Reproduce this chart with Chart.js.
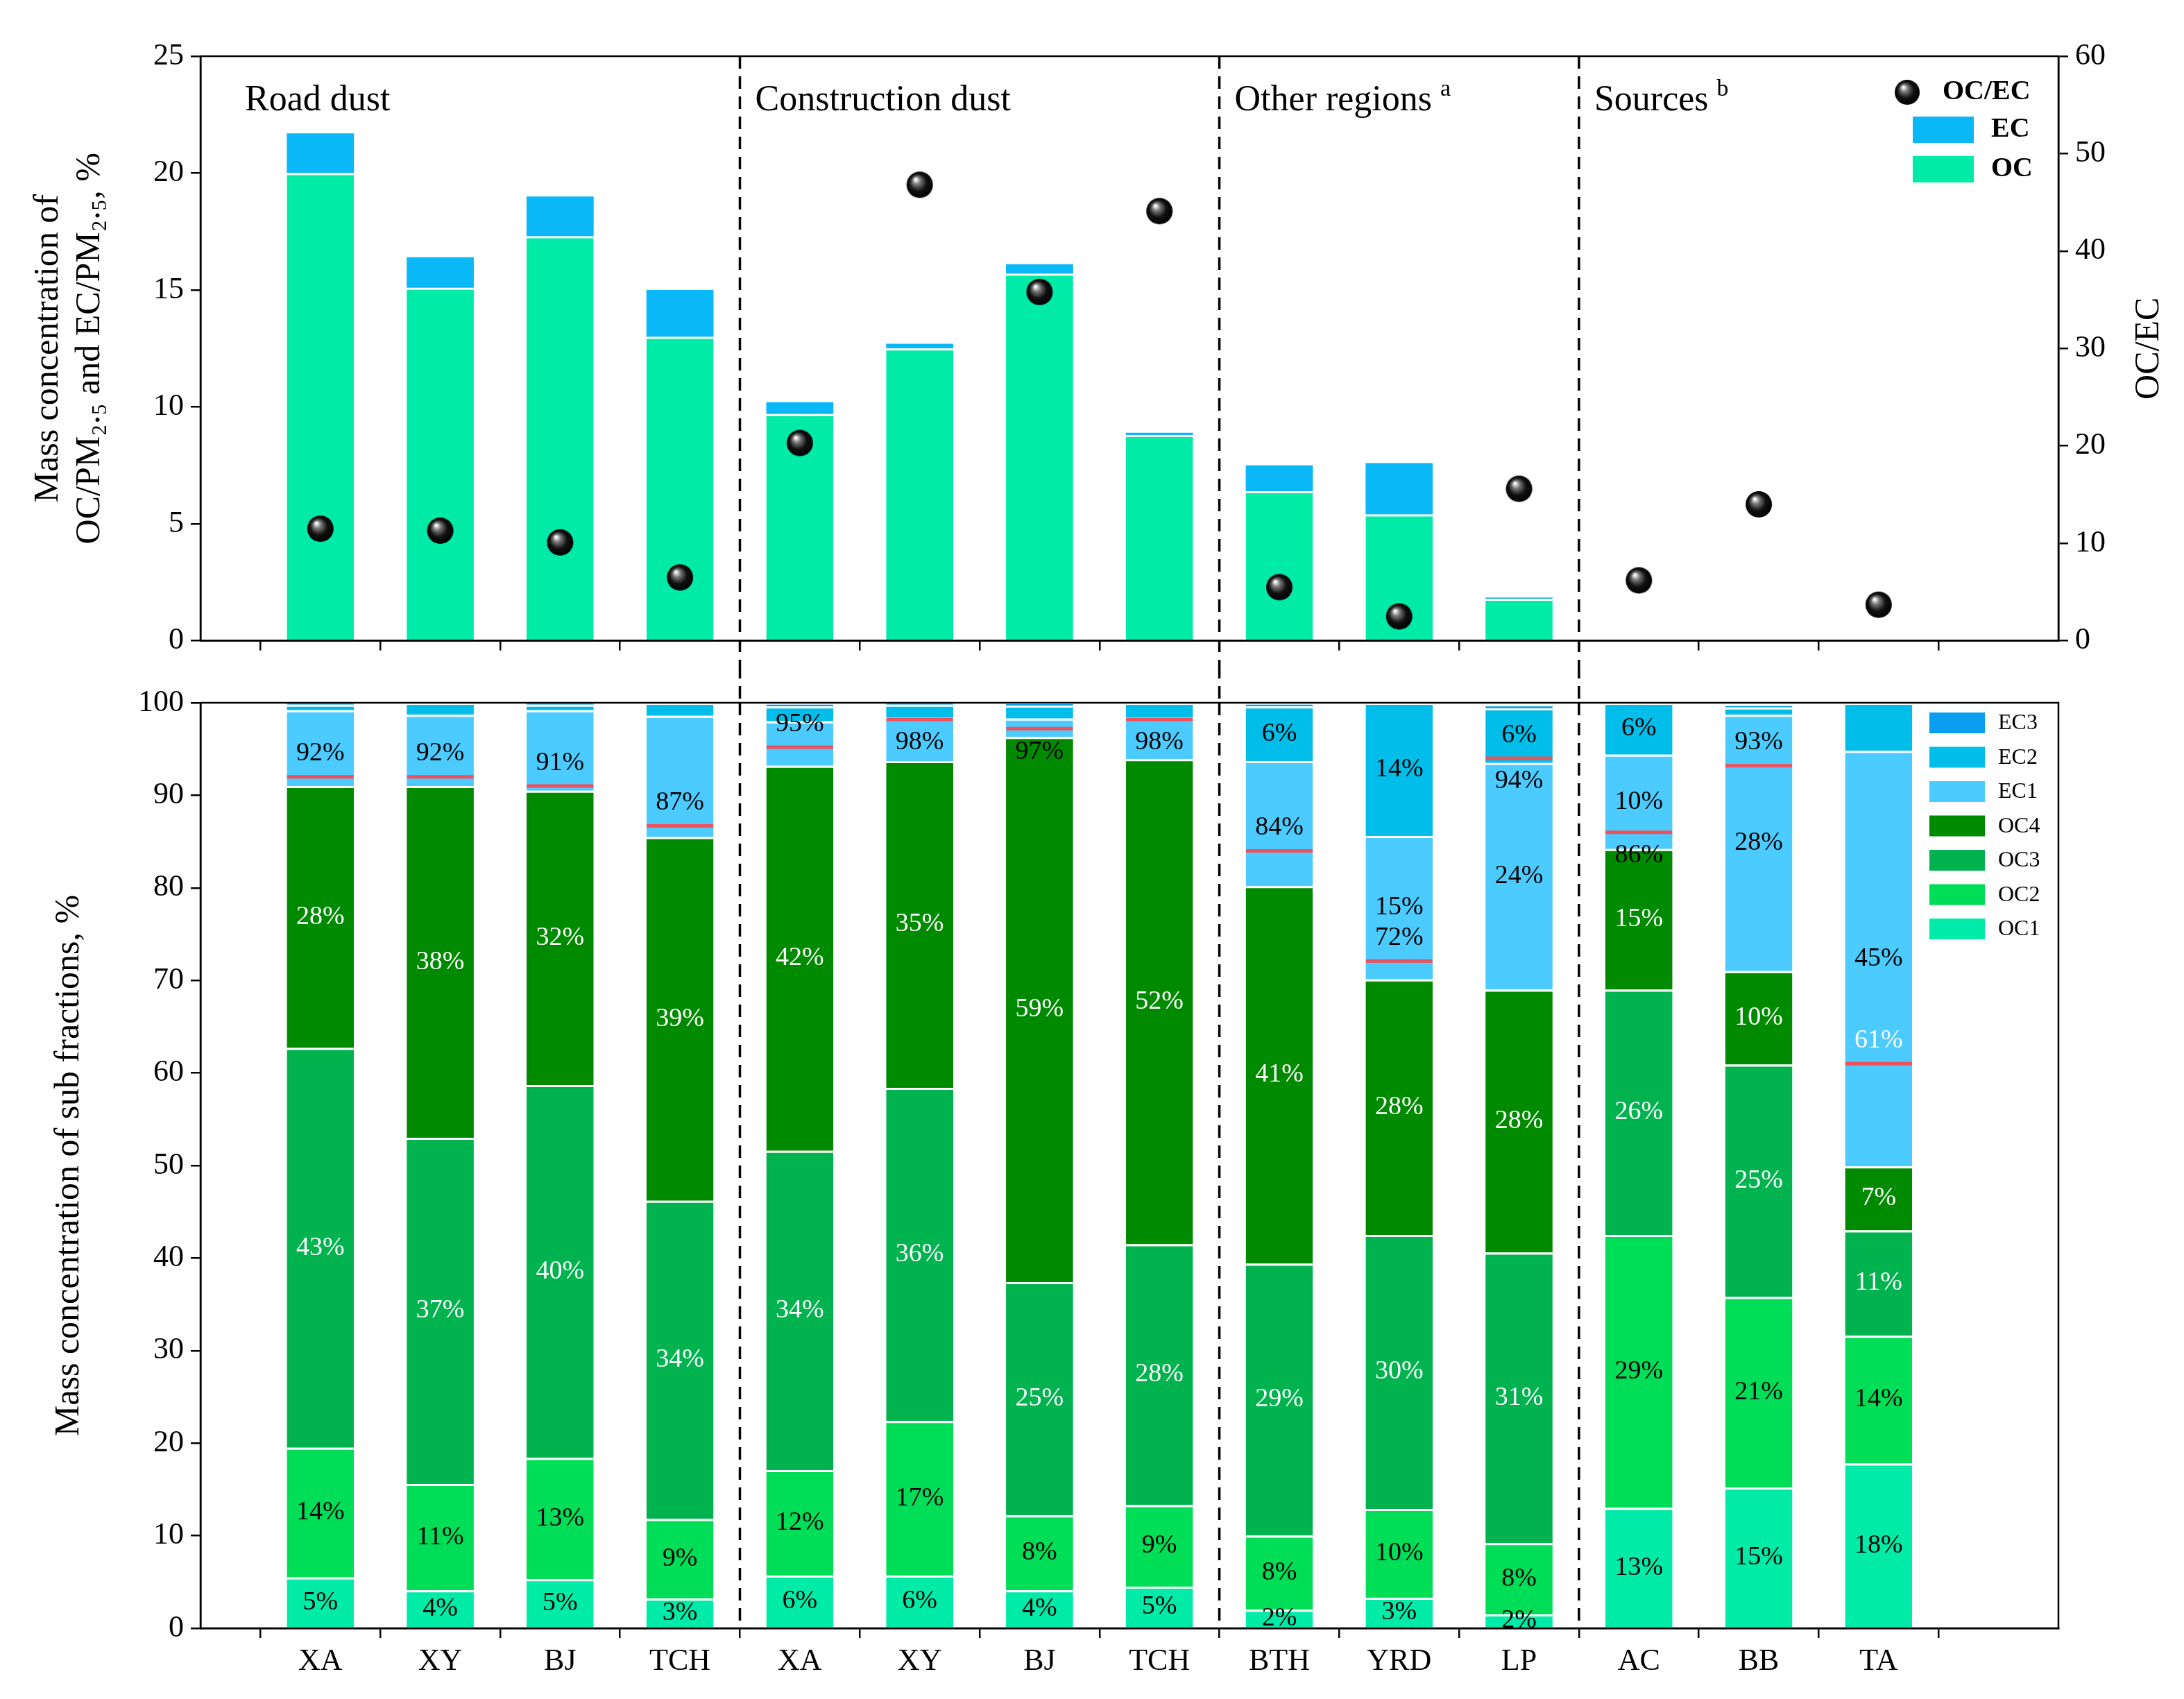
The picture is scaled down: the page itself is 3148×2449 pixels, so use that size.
<!DOCTYPE html>
<html><head><meta charset="utf-8">
<script src="https://cdn.jsdelivr.net/npm/chart.js@4.4.1/dist/chart.umd.min.js"></script>
<style>body{margin:0;background:#fff;width:3148px;height:2449px;position:relative;overflow:hidden}
canvas{position:absolute;left:0}</style></head><body>
<canvas id="c1" width="3148" height="960" style="top:0;width:3148px;height:960px"></canvas>
<canvas id="c2" width="3148" height="1489" style="top:960px;width:3148px;height:1489px"></canvas>
<script>
const categories=['XA','XY','BJ','TCH','XA','XY','BJ','TCH','BTH','YRD','LP','AC','BB','TA'];
const sections=['Road dust','Construction dust','Other regions','Sources'];
const sectionSup=['','','a','b'];
const sectionStart=[0,4,8,11];
const ocPM=[20.0,15.1,17.3,13.0,9.7,12.5,15.7,8.8,6.4,5.4,1.8,null,null,null];
const ecPM=[1.7,1.3,1.7,2.0,0.5,0.2,0.4,0.1,1.1,2.2,0.05,null,null,null];
const ocec=[11.5,11.3,10.1,6.5,20.3,46.8,35.8,44.1,5.5,2.5,15.6,6.2,14.0,3.7];
const OC1=[5.5,4.1,5.3,3.2,5.7,5.7,4.1,4.5,2.0,3.3,1.5,13.0,15.2,17.8];
const OC2=[14.0,11.5,13.1,8.6,11.4,16.7,8.1,8.8,8.0,9.6,7.7,29.5,20.6,13.8];
const OC3=[43.2,37.4,40.3,34.4,34.5,36.0,25.2,28.2,29.4,29.6,31.4,26.5,25.1,11.4];
const OC4=[28.3,38.0,31.8,39.3,41.6,35.3,58.9,52.4,40.8,27.6,28.4,15.2,10.1,6.9];
const EC1=[8.2,7.7,8.7,13.1,4.8,4.7,2.0,4.5,13.5,15.5,24.5,10.2,27.7,44.9];
const EC2=[0.6,1.3,0.6,1.4,1.6,1.4,1.4,1.6,5.9,14.4,5.9,5.6,0.8,5.2];
const EC3=[0.2,0,0.2,0,0.4,0.2,0.3,0,0.4,0,0.4,0,0.3,0];
const ocShare=[92,92,91,86.7,95.2,98.2,97.2,98.2,84,72.1,94,86,93.2,61];
const lblOC1=['5%','4%','5%','3%','6%','6%','4%','5%','2%','3%','2%','13%','15%','18%'];
const lblOC2=['14%','11%','13%','9%','12%','17%','8%','9%','8%','10%','8%','29%','21%','14%'];
const lblOC3=['43%','37%','40%','34%','34%','36%','25%','28%','29%','30%','31%','26%','25%','11%'];
const lblOC4=['28%','38%','32%','39%','42%','35%','59%','52%','41%','28%','28%','15%','10%','7%'];
const lblEC1=[null,null,null,null,null,null,null,null,null,'15%','24%','10%','28%','45%'];
const lblEC2=[null,null,null,null,null,null,null,null,'6%','14%','6%','6%',null,null];
const lblShare=['92%','92%','91%','87%','95%','98%','97%','98%','84%','72%','94%','86%','93%','61%'];
const shareBelow=[0,0,0,0,0,1,1,1,0,0,1,1,0,0];
const yTopTicks=[0,5,10,15,20,25];

const FONT="'Liberation Serif'";
Chart.defaults.font.family="'Liberation Serif', serif";
Chart.defaults.color='#000';
const pts=a=>a.map((v,i)=>({x:i,y:v}));

const sph=document.createElement('canvas');sph.width=40;sph.height=40;
{const g=sph.getContext('2d');const gr=g.createRadialGradient(14,12,1,20,20,20);
gr.addColorStop(0,'#fff');gr.addColorStop(0.25,'#777');gr.addColorStop(0.6,'#111');gr.addColorStop(1,'#000');
g.fillStyle=gr;g.beginPath();g.arc(20,20,19,0,Math.PI*2);g.fill();}

const C={OC1:'#00EBA8',OC2:'#00DE57',OC3:'#00B34F',OC4:'#008A00',EC1:'#4BCBFF',EC2:'#00BDEA',EC3:'#0A9EF0',OC:'#00EBA8',EC:'#0BB8F7'};

function boundaryX(x,i){return x.getPixelForValue(i-0.5);}
const frame={id:'frame',afterDatasetsDraw(ch,a,o){const c=ch.ctx,ca=ch.chartArea,x=ch.scales.x;
 c.save();c.strokeStyle='#000';c.lineWidth=2.5;c.strokeRect(ca.left,ca.top,ca.right-ca.left,ca.bottom-ca.top);
 c.setLineDash([18,11]);c.lineWidth=3.5;
 [4,8,11].forEach(i=>{const px=boundaryX(x,i);c.beginPath();c.moveTo(px,ca.top);c.lineTo(px,o.extBottom?ch.height:ca.bottom);
  if(o.extTop){c.moveTo(px,0);c.lineTo(px,ca.top);}c.stroke();});
 c.restore();}};

const xScale=(show,h)=>({type:'linear',min:-1,max:14.5,offset:false,
 afterBuildTicks:s=>{s.ticks=categories.map((c,i)=>({value:i}))},
 ticks:{display:show,font:{size:44},padding:8,callback:v=>categories[v]},
 grid:{display:true,drawOnChartArea:false,tickLength:14,color:'#000',lineWidth:2.5},border:{color:'#000',width:2.5},afterFit:s=>{s.height=h}});

const topTitles={id:'tt',afterDatasetsDraw(ch){const c=ch.ctx,x=ch.scales.x,ca=ch.chartArea;c.save();
 c.fillStyle='#000';c.textBaseline='middle';
 sections.forEach((s,k)=>{const i=sectionStart[k];const px=(i===0?ca.left+64:boundaryX(x,i)+22);
  c.font='52px '+FONT;c.textAlign='left';c.fillText(s,px,ca.top+64);
  if(sectionSup[k]){const w=c.measureText(s).width;c.font='34px '+FONT;c.fillText(sectionSup[k],px+w+12,ca.top+48);}});
 c.drawImage(sph,2730,114,38,38);
 c.font='bold 40px '+FONT;c.fillText('OC/EC',2800,133);
 c.fillStyle=C.EC;c.fillRect(2757,168,88,38);c.fillStyle=C.OC;c.fillRect(2757,225,88,38);
 c.fillStyle='#000';c.fillText('EC',2870,187);c.fillText('OC',2870,244);
 c.translate(3098,(ca.top+ca.bottom)/2);c.rotate(-Math.PI/2);c.textAlign='center';c.font='50px '+FONT;c.fillText('OC/EC',0,0);
 c.restore();}};

new Chart(document.getElementById('c1'),{type:'bar',
 data:{datasets:[
  {label:'OC',data:pts(ocPM),backgroundColor:C.OC,borderColor:'#fff',borderWidth:{top:3},stack:'s',yAxisID:'y',order:2},
  {label:'EC',data:pts(ecPM),backgroundColor:C.EC,stack:'s',yAxisID:'y',order:2},
  {label:'OC/EC',type:'line',data:pts(ocec),showLine:false,yAxisID:'y1',pointStyle:sph,pointRadius:19,order:1}]},
 options:{responsive:false,animation:false,devicePixelRatio:1,layout:{padding:{top:81,left:40,bottom:0}},
  plugins:{legend:{display:false},tooltip:{enabled:false},frame:{extBottom:true}},
  datasets:{bar:{barPercentage:0.56,categoryPercentage:1}},
  scales:{
   x:xScale(false,7),
   y:{stacked:true,min:0,max:25,afterBuildTicks:s=>{s.ticks=yTopTicks.map(v=>({value:v}))},ticks:{font:{size:44},padding:10},
      grid:{drawOnChartArea:false,tickLength:14,color:'#000',lineWidth:2.5},border:{color:'#000',width:2.5},
      title:{display:true,text:['Mass concentration of','OC/PM₂.₅ and EC/PM₂.₅, %'],font:{size:50},padding:0},afterFit:s=>{s.width=249}},
   y1:{position:'right',min:0,max:60,ticks:{stepSize:10,font:{size:44},padding:10},
      grid:{drawOnChartArea:false,tickLength:14,color:'#000',lineWidth:2.5},border:{color:'#000',width:2.5},
      afterFit:s=>{s.width=181}}}},
 plugins:[frame,topTitles]});

const segLabels=[lblOC1,lblOC2,lblOC3,lblOC4,lblEC1,lblEC2,null];
const segColors=['#000','#000','#fff','#fff','#000','#000','#000'];
const botPlugin={id:'bp',afterDatasetsDraw(ch){const c=ch.ctx,x=ch.scales.x,y=ch.scales.y;c.save();
 c.font='38px '+FONT;c.textAlign='center';c.textBaseline='middle';
 segLabels.forEach((arr,d)=>{if(!arr)return;const m=ch.getDatasetMeta(d);
  arr.forEach((t,i)=>{if(!t)return;const el=m.data[i];c.fillStyle=segColors[d];c.fillText(t,el.x,(el.y+el.base)/2);});});
 lblShare.forEach((t,i)=>{const px=x.getPixelForValue(i);c.fillStyle=(i===13)?'#fff':'#000';
  c.fillText(t,px,y.getPixelForValue(ocShare[i]+(shareBelow[i]?-2.5:2.5)));});
 const names=['EC3','EC2','EC1','OC4','OC3','OC2','OC1'];
 c.textAlign='left';c.font='32px '+FONT;
 names.forEach((n,k)=>{const yy=1042-960+k*49.5;c.fillStyle=C[n];c.fillRect(2781,yy-15,80,30);c.fillStyle='#000';c.fillText(n,2880,yy+1);});
 c.restore();}};
const segDs=(lab,data)=>({label:lab,data:pts(data),backgroundColor:C[lab],borderColor:'#fff',borderWidth:{top:3},stack:'s',order:2});
new Chart(document.getElementById('c2'),{type:'bar',
 data:{datasets:[segDs('OC1',OC1),segDs('OC2',OC2),segDs('OC3',OC3),segDs('OC4',OC4),segDs('EC1',EC1),segDs('EC2',EC2),segDs('EC3',EC3),
  {label:'share',type:'line',data:pts(ocShare),showLine:false,pointStyle:'line',pointRadius:48,pointBorderWidth:5,borderColor:'#F0505A',backgroundColor:'#F0505A',order:1}]},
 options:{responsive:false,animation:false,devicePixelRatio:1,layout:{padding:{top:49,right:181,left:70}},
  plugins:{legend:{display:false},tooltip:{enabled:false},frame:{extTop:true}},
  datasets:{bar:{barPercentage:0.56,categoryPercentage:1}},
  scales:{
   x:xScale(true,102),
   y:{stacked:true,min:0,max:100,ticks:{stepSize:10,font:{size:44},padding:10},
      grid:{drawOnChartArea:false,tickLength:14,color:'#000',lineWidth:2.5},border:{color:'#000',width:2.5},
      title:{display:true,text:'Mass concentration of sub fractions, %',font:{size:50},padding:0},afterFit:s=>{s.width=219}}}},
 plugins:[frame,botPlugin]});
</script></body></html>
